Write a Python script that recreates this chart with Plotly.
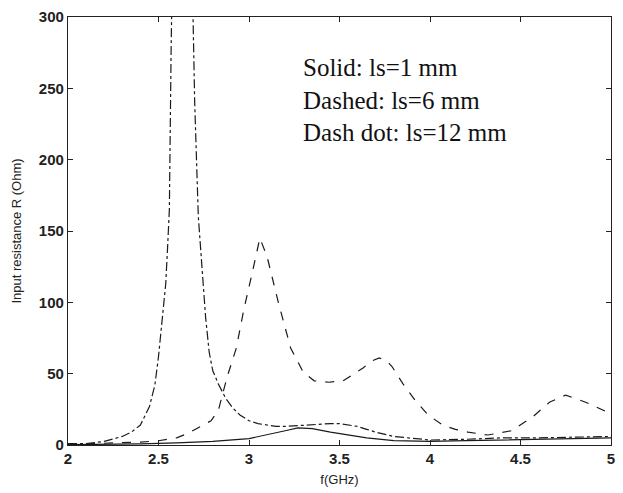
import plotly.graph_objects as go

# ls = 1 mm (solid)
f_solid = [2.0, 2.2, 2.4, 2.6, 2.8, 3.0, 3.1, 3.2, 3.27, 3.35, 3.45, 3.55, 3.65, 3.8, 4.0, 4.2, 4.4, 4.6, 4.8, 5.0]
r_solid = [0.2, 0.3, 0.8, 1.5, 2.5, 4.5, 7, 10, 12, 11.5, 9, 7, 5, 3, 2.5, 3, 3.5, 4, 4.5, 5]

# ls = 6 mm (dashed)
f_dashed = [2.0, 2.2, 2.4, 2.5, 2.6, 2.66, 2.72, 2.79, 2.83, 2.88, 2.93, 2.97, 3.02, 3.06, 3.1, 3.16, 3.23,
            3.3, 3.36, 3.44, 3.52, 3.58, 3.63, 3.68, 3.72, 3.76, 3.79, 3.85, 3.92, 3.99, 4.07, 4.14, 4.21,
            4.32, 4.45, 4.57, 4.66, 4.75, 4.86, 4.98, 5.0]
r_dashed = [0.5, 1, 2, 3, 5, 8, 12, 17, 24, 48, 68, 94, 122, 145, 132, 101, 68,
            51, 45, 44, 45, 50, 54, 59, 61, 59, 55, 43, 31, 21, 14, 11, 9,
            7, 10, 20, 30, 35, 30, 23, 22]

# ls = 12 mm (dash dot)
f_dashdot = [2.0, 2.1, 2.2, 2.3, 2.35, 2.4, 2.45, 2.48, 2.5, 2.52, 2.54, 2.55, 2.56, 2.57, 2.58, 2.6, 2.62,
             2.64, 2.66, 2.68, 2.69, 2.7, 2.72, 2.74, 2.76, 2.78, 2.8, 2.83, 2.87, 2.91, 2.95, 3.0, 3.05,
             3.1, 3.15, 3.2, 3.3, 3.4, 3.45, 3.5, 3.55, 3.6, 3.65, 3.7, 3.8, 3.9, 4.0, 4.2, 4.4, 4.6, 4.8, 5.0]
r_dashdot = [1, 1, 2.5, 6, 9, 14, 27, 42, 62, 90, 113, 138, 165, 280, 380, 600, 700,
             650, 500, 360, 300, 240, 160, 128, 90, 65, 52, 43, 33, 26, 21, 17, 15,
             14, 13, 13, 14, 15, 15, 15, 14, 13, 11, 9, 6, 4.5, 3.5, 4, 5, 5, 5.5, 6]

x_ticks = [2, 2.5, 3, 3.5, 4, 4.5, 5]
x_tick_labels = ["2", "2.5", "3", "3.5", "4", "4.5", "5"]
y_ticks = [0, 50, 100, 150, 200, 250, 300]

annotation_lines = ["Solid: ls=1 mm", "Dashed: ls=6 mm", "Dash dot: ls=12 mm"]

fig = go.Figure()
line_col = "#1a1a1a"
fig.add_trace(go.Scatter(x=f_solid, y=r_solid, mode="lines",
                         line=dict(color=line_col, width=1.2, dash="solid"), name="ls=1 mm"))
fig.add_trace(go.Scatter(x=f_dashed, y=r_dashed, mode="lines",
                         line=dict(color=line_col, width=1.2, dash="dash"), name="ls=6 mm"))
fig.add_trace(go.Scatter(x=f_dashdot, y=r_dashdot, mode="lines",
                         line=dict(color=line_col, width=1.2, dash="dashdot"), name="ls=12 mm"))

fig.add_annotation(
    x=(303 - 68) / (615 - 68), y=1 - (50 - 15) / (445 - 15), xref="paper", yref="paper",
    text="<br>".join(annotation_lines),
    showarrow=False, xanchor="left", yanchor="top", align="left",
    font=dict(family="Liberation Serif", size=25, color="#111"),
)

axis_common = dict(
    showline=True, linecolor="#222", linewidth=1.3, mirror="ticks",
    ticks="inside", ticklen=5, tickcolor="#222", showgrid=False, zeroline=False,
    tickfont=dict(family="Liberation Sans", size=15, color="#222", weight="bold"),
)

fig.update_xaxes(range=[2, 5], tickvals=x_ticks, ticktext=x_tick_labels,
                 title=dict(text="f(GHz)", font=dict(family="Liberation Sans", size=13, color="#222"), standoff=8),
                 **axis_common)
fig.update_yaxes(range=[0, 300], tickvals=y_ticks,
                 title=dict(text="Input resistance R (Ohm)", font=dict(family="Liberation Sans", size=13, color="#222"), standoff=14),
                 **axis_common)

fig.update_layout(
    width=623, height=493,
    margin=dict(l=68, r=8, t=15, b=48),
    paper_bgcolor="white", plot_bgcolor="white",
    showlegend=False,
)

fig.write_html("out.html")
